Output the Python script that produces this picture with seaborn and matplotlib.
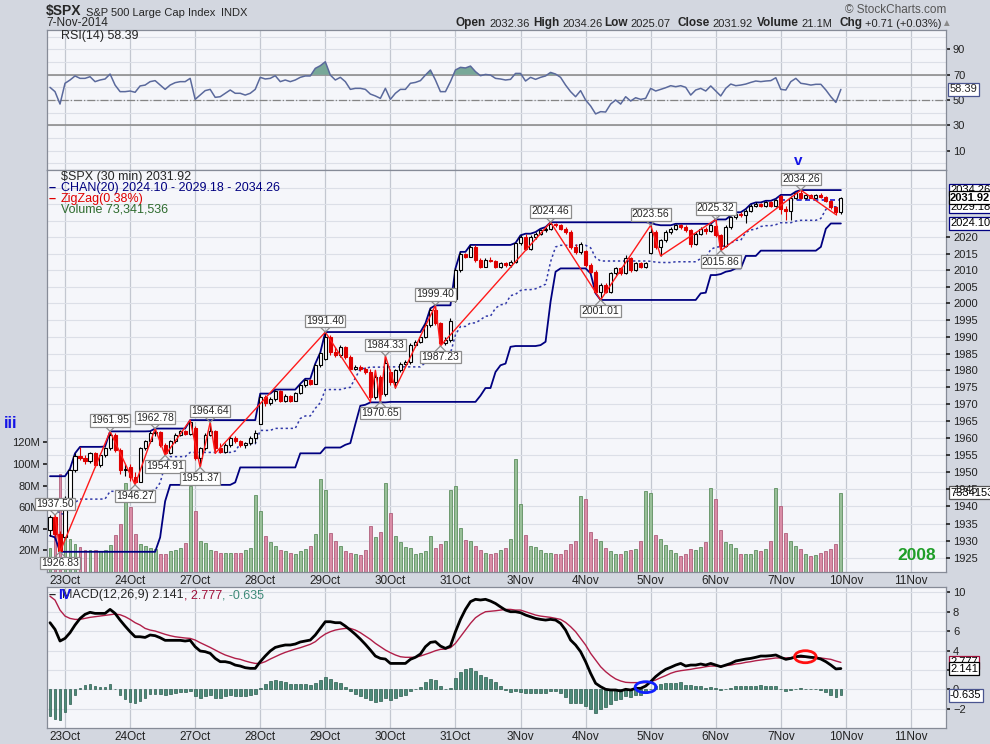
import numpy as np
import pandas as pd
import matplotlib
matplotlib.use("Agg")
import matplotlib.pyplot as plt
import seaborn as sns
from matplotlib.patches import Ellipse

# ---------------- data (30-minute bars, index 0 = first bar of 23 Oct) ----------------
bar_index = list(range(-3, 156))
day_starts = [0, 13, 26, 39, 52, 65, 78, 91, 104, 117, 130, 143, 156, 169]
day_labels = ["23Oct", "24Oct", "27Oct", "28Oct", "29Oct", "30Oct", "31Oct",
              "3Nov", "4Nov", "5Nov", "6Nov", "7Nov", "10Nov", "11Nov"]

opens = [1933.0, 1936.8, 1932.0,
         1931.0, 1942.5, 1950.5, 1954.8, 1954.0, 1953.2, 1955.5, 1952.0, 1955.0, 1957.0, 1961.0, 1956.5, 1950.5,
         1951.6, 1948.5, 1947.2, 1957.0, 1959.0, 1961.5, 1961.8, 1958.0, 1955.5, 1959.0, 1961.0, 1962.0, 1961.3,
         1963.0, 1954.0, 1957.0, 1961.0, 1962.0, 1957.0, 1956.0, 1958.0, 1960.0, 1959.0, 1958.0, 1958.4, 1960.0,
         1964.1, 1972.0, 1970.2, 1971.5, 1974.0, 1971.0, 1972.5, 1971.0, 1973.2, 1975.5, 1977.0, 1976.0, 1981.5,
         1983.3, 1990.0, 1985.5, 1984.5, 1987.0, 1984.0, 1980.5, 1981.0, 1980.3, 1979.5, 1972.0, 1978.0, 1973.0,
         1979.5, 1976.5, 1980.0, 1982.0, 1982.5, 1987.5, 1988.5, 1990.0, 1993.5, 1998.0, 1994.0, 1988.0, 1989.0,
         2001.2, 2010.0, 2015.0, 2014.0, 2017.0, 2013.0, 2011.0, 2013.0, 2012.8, 2011.0, 2012.0, 2011.5, 2012.5,
         2018.2, 2020.0, 2016.5, 2020.0, 2021.0, 2022.0, 2022.5, 2024.0, 2023.5, 2022.5, 2021.5, 2017.0, 2015.5,
         2015.8, 2011.5, 2009.5, 2003.5, 2005.5, 2003.5, 2009.0, 2010.5, 2009.0, 2013.5, 2010.0, 2012.0, 2011.0,
         2015.3, 2021.5, 2017.0, 2019.0, 2021.5, 2022.5, 2023.5, 2023.0, 2022.0, 2017.8, 2021.0, 2022.5, 2021.8,
         2023.3, 2020.5, 2017.3, 2023.0, 2026.0, 2027.0, 2026.8, 2028.0, 2029.5, 2030.0, 2029.5, 2030.5, 2029.5,
         2032.36, 2028.6, 2028.0, 2032.0, 2033.5, 2032.0, 2032.7, 2032.0, 2032.8, 2032.3, 2031.0, 2029.2, 2027.5]
highs = [1937.6, 1937.5, 1932.8,
         1943.0, 1951.0, 1955.5, 1957.4, 1955.0, 1956.0, 1956.0, 1955.5, 1957.5, 1961.95, 1961.5, 1957.0, 1952.5,
         1952.5, 1950.0, 1957.5, 1959.5, 1962.0, 1962.78, 1962.0, 1958.5, 1959.5, 1961.5, 1962.5, 1962.5, 1965.27,
         1963.5, 1957.5, 1961.5, 1964.64, 1962.5, 1958.5, 1958.5, 1960.5, 1960.5, 1959.5, 1958.8, 1960.5, 1962.5,
         1973.1, 1972.8, 1972.2, 1974.3, 1974.2, 1973.0, 1972.8, 1973.5, 1976.0, 1977.5, 1977.5, 1982.0, 1985.3,
         1991.40, 1990.5, 1987.0, 1987.5, 1987.3, 1984.5, 1981.5, 1981.5, 1981.0, 1980.5, 1980.0, 1978.5, 1984.33,
         1980.5, 1980.5, 1982.5, 1983.0, 1988.0, 1989.0, 1990.5, 1994.0, 1998.5, 1999.40, 1994.5, 1990.0, 1995.5,
         2010.5, 2015.5, 2015.3, 2017.6, 2017.5, 2013.5, 2013.5, 2014.0, 2013.0, 2012.5, 2012.5, 2013.0, 2018.19,
         2020.5, 2021.0, 2020.5, 2021.5, 2022.5, 2023.0, 2024.46, 2024.3, 2023.8, 2023.0, 2022.0, 2018.0, 2018.5,
         2016.0, 2012.0, 2010.0, 2006.0, 2006.0, 2009.5, 2011.0, 2011.0, 2014.5, 2014.0, 2012.5, 2012.5, 2012.5,
         2023.56, 2022.0, 2019.5, 2022.0, 2023.0, 2024.0, 2023.8, 2023.5, 2022.5, 2021.5, 2023.0, 2023.0, 2024.0,
         2025.32, 2021.0, 2023.5, 2026.5, 2027.5, 2027.5, 2028.5, 2030.0, 2030.5, 2030.3, 2031.0, 2031.0, 2031.61,
         2032.8, 2029.5, 2032.5, 2033.8, 2034.26, 2033.0, 2033.0, 2033.2, 2033.5, 2032.5, 2031.3, 2029.5, 2032.3]
lows = [1931.5, 1931.0, 1926.83,
        1931.0, 1941.5, 1950.0, 1953.5, 1952.5, 1952.8, 1951.5, 1951.5, 1954.5, 1956.5, 1956.0, 1949.5, 1949.0,
        1947.5, 1946.27, 1947.0, 1956.5, 1958.5, 1960.5, 1957.5, 1954.91, 1955.2, 1958.5, 1960.5, 1960.8, 1961.0,
        1953.5, 1951.37, 1956.5, 1960.5, 1955.5, 1955.5, 1955.5, 1957.5, 1958.5, 1957.5, 1957.2, 1958.0, 1958.5,
        1964.1, 1969.5, 1969.8, 1971.0, 1970.5, 1970.5, 1970.5, 1970.8, 1973.0, 1975.0, 1975.5, 1975.8, 1981.0,
        1983.0, 1984.5, 1984.0, 1984.0, 1983.5, 1980.0, 1980.0, 1979.8, 1979.0, 1970.7, 1971.5, 1970.65, 1972.5,
        1975.5, 1974.75, 1979.5, 1981.5, 1982.0, 1987.0, 1988.0, 1989.5, 1993.0, 1993.5, 1987.23, 1987.5, 1988.5,
        2000.5, 2009.5, 2013.5, 2013.8, 2012.5, 2010.5, 2010.8, 2012.5, 2010.5, 2010.5, 2011.0, 2011.0, 2012.0,
        2017.5, 2016.0, 2016.0, 2019.5, 2020.5, 2021.5, 2022.0, 2023.0, 2022.0, 2021.0, 2016.5, 2015.0, 2015.0,
        2011.0, 2009.0, 2003.0, 2001.01, 2003.0, 2003.2, 2008.5, 2008.5, 2008.8, 2009.5, 2009.8, 2010.5, 2010.5,
        2015.0, 2016.5, 2014.27, 2018.5, 2021.0, 2022.0, 2022.5, 2021.5, 2017.0, 2017.5, 2020.5, 2021.0, 2021.5,
        2020.0, 2015.86, 2017.0, 2022.5, 2025.5, 2026.0, 2024.10, 2027.5, 2029.0, 2029.0, 2029.0, 2029.0, 2029.2,
        2027.0, 2025.07, 2025.3, 2031.5, 2031.5, 2031.5, 2031.8, 2031.8, 2032.0, 2030.5, 2028.5, 2026.8, 2027.0]
closes = [1936.8, 1932.0, 1927.1,
          1942.5, 1950.5, 1954.8, 1954.0, 1953.2, 1955.5, 1952.0, 1955.0, 1957.0, 1961.0, 1956.5, 1950.5, 1950.8,
          1948.5, 1947.2, 1957.0, 1959.0, 1961.5, 1961.8, 1958.0, 1955.5, 1959.0, 1961.0, 1962.0, 1961.3, 1964.6,
          1954.0, 1957.0, 1961.0, 1962.0, 1957.0, 1956.0, 1958.0, 1960.0, 1959.0, 1958.0, 1958.4, 1960.0, 1961.6,
          1972.0, 1970.2, 1971.5, 1974.0, 1971.0, 1972.5, 1971.0, 1973.2, 1975.5, 1977.0, 1976.0, 1981.5, 1985.05,
          1990.0, 1985.5, 1984.5, 1987.0, 1984.0, 1980.5, 1981.0, 1980.3, 1979.5, 1972.0, 1978.0, 1973.0, 1982.3,
          1976.5, 1980.0, 1982.0, 1982.5, 1987.5, 1988.5, 1990.0, 1993.5, 1998.0, 1994.0, 1988.0, 1989.0, 1994.65,
          2010.0, 2015.0, 2014.0, 2017.0, 2013.0, 2011.0, 2013.0, 2012.8, 2011.0, 2012.0, 2011.5, 2012.5, 2018.05,
          2020.0, 2016.5, 2020.0, 2021.0, 2022.0, 2022.5, 2024.0, 2023.5, 2022.5, 2021.5, 2017.0, 2015.5, 2017.8,
          2011.5, 2009.5, 2003.5, 2005.5, 2003.5, 2009.0, 2010.5, 2009.0, 2013.5, 2010.0, 2012.0, 2011.0, 2012.1,
          2021.5, 2017.0, 2019.0, 2021.5, 2022.5, 2023.5, 2023.0, 2022.0, 2017.8, 2021.0, 2022.5, 2021.8, 2023.6,
          2020.5, 2017.3, 2023.0, 2026.0, 2027.0, 2026.8, 2028.0, 2029.5, 2030.0, 2029.5, 2030.5, 2029.5, 2031.2,
          2028.6, 2028.0, 2032.0, 2033.5, 2032.0, 2032.7, 2032.0, 2032.8, 2032.3, 2031.0, 2029.2, 2027.5, 2031.92]
volume_m = [22, 34, 91,
            42, 31, 26, 23, 20, 20, 20, 19, 20, 25, 34, 44, 82,
            60, 35, 26, 24, 22, 21, 17, 17, 19, 20, 22, 27, 80,
            56, 29, 27, 20, 19, 18, 18, 18, 18, 18, 20, 22, 71,
            56, 33, 28, 24, 20, 19, 18, 17, 19, 21, 24, 35, 86,
            76, 36, 29, 24, 19, 18, 17, 16, 20, 43, 32, 37, 82,
            55, 33, 28, 23, 22, 17, 18, 19, 33, 22, 26, 29, 76,
            80, 41, 30, 29, 24, 20, 18, 17, 18, 20, 22, 31, 105,
            63, 34, 24, 23, 20, 18, 18, 17, 17, 20, 26, 29, 70,
            68, 37, 31, 29, 22, 19, 17, 17, 19, 20, 21, 29, 75,
            73, 34, 31, 25, 20, 18, 15, 17, 21, 20, 23, 28, 78,
            68, 39, 28, 26, 22, 17, 17, 17, 20, 19, 21, 29, 78,
            61, 36, 29, 24, 21, 17, 15, 16, 18, 19, 21, 26, 73.34]
rsi14 = [60.0, 56.6, 46.8,
         63.2, 65.8, 69.0, 67.1, 67.1, 68.4, 64.5, 65.8, 66.6, 70.5, 61.8, 56.6, 56.6,
         57.1, 56.1, 61.1, 61.8, 64.5, 65.3, 61.8, 58.4, 61.8, 63.7, 64.5, 64.5, 67.1,
         50.5, 53.9, 57.4, 58.4, 52.1, 52.6, 55.3, 57.9, 55.3, 55.3, 53.9, 55.3, 58.4,
         67.9, 66.6, 67.1, 69.2, 64.5, 65.8, 64.5, 65.8, 67.9, 69.0, 69.0, 75.0, 77.1,
         80.2, 69.7, 65.8, 67.9, 64.5, 58.4, 59.2, 59.2, 58.4, 54.7, 53.2, 51.3, 59.2,
         50.5, 55.3, 58.4, 58.4, 63.2, 63.9, 65.3, 69.7, 73.7, 65.8, 56.6, 56.6, 64.5,
         73.7, 75.8, 75.3, 76.8, 72.4, 69.2, 70.2, 69.7, 67.1, 66.6, 65.8, 66.3, 71.0,
         71.0, 65.0, 67.9, 66.3, 67.9, 69.0, 71.8, 70.5, 67.9, 61.8, 56.6, 52.6, 57.4,
         50.0, 45.3, 39.0, 40.8, 40.5, 46.8, 50.0, 46.8, 52.6, 49.2, 51.8, 50.5, 51.3,
         59.2, 57.1, 58.4, 59.7, 61.3, 60.5, 61.3, 60.0, 53.9, 57.9, 59.2, 57.1, 61.1,
         57.1, 53.2, 59.2, 62.6, 61.3, 61.8, 62.6, 63.9, 65.0, 64.5, 65.0, 65.3, 67.6,
         58.4, 57.9, 64.5, 67.1, 63.2, 62.6, 61.8, 62.4, 62.4, 57.9, 52.6, 48.1, 58.39]
macd_line = [6.87, 6.18, 4.98,
             5.25, 5.84, 6.63, 7.30, 7.73, 7.94, 7.83, 7.83, 7.83, 8.24, 7.83, 7.14, 6.52,
             5.94, 5.42, 5.42, 5.35, 5.60, 5.53, 5.32, 5.05, 5.05, 5.05, 5.05, 4.98, 5.05,
             4.39, 3.95, 3.88, 3.71, 3.19, 2.85, 2.85, 2.74, 2.50, 2.40, 2.23, 2.16, 2.16,
             2.85, 3.43, 3.95, 4.32, 4.46, 4.57, 4.57, 4.67, 4.88, 4.98, 5.08, 5.60, 6.28,
             6.97, 6.97, 6.87, 6.87, 6.52, 6.11, 5.67, 5.18, 4.64, 4.05, 3.43, 3.19, 3.12,
             2.67, 2.67, 2.67, 2.67, 3.09, 3.30, 3.64, 4.39, 4.84, 4.91, 4.46, 4.22, 4.46,
             5.94, 7.21, 8.24, 9.04, 9.28, 9.21, 9.28, 9.10, 8.85, 8.50, 8.17, 8.00, 8.00,
             7.90, 7.66, 7.49, 7.31, 7.21, 7.14, 7.21, 7.14, 6.80, 6.11, 5.08, 4.57, 3.88,
             2.85, 1.65, 0.62, 0.27, 0.00, -0.07, -0.07, -0.17, 0.00, -0.07, 0.10, 0.10, 0.34,
             0.79, 1.31, 1.72, 2.06, 2.27, 2.50, 2.67, 2.40, 2.50, 2.50, 2.61, 2.50, 2.67,
             2.50, 2.33, 2.50, 2.67, 2.92, 3.02, 3.12, 3.19, 3.30, 3.43, 3.43, 3.47, 3.54,
             3.30, 3.09, 3.19, 3.36, 3.43, 3.36, 3.30, 3.26, 3.12, 2.85, 2.50, 2.10, 2.141]
macd_signal = [9.60, 9.20, 8.17,
               7.55, 7.31, 7.21, 7.21, 7.31, 7.42, 7.49, 7.55, 7.62, 7.69, 7.76, 7.69, 7.49,
               7.21, 6.87, 6.63, 6.28, 6.11, 6.01, 5.84, 5.67, 5.53, 5.42, 5.35, 5.29, 5.25,
               5.08, 4.81, 4.57, 4.32, 4.05, 3.78, 3.54, 3.36, 3.19, 3.09, 2.92, 2.78, 2.67,
               2.67, 2.85, 3.12, 3.36, 3.60, 3.81, 3.98, 4.15, 4.29, 4.46, 4.64, 4.91, 5.35,
               5.70, 5.94, 6.11, 6.21, 6.28, 6.28, 6.11, 5.84, 5.49, 5.15, 4.74, 4.39, 4.05,
               3.78, 3.54, 3.36, 3.30, 3.30, 3.30, 3.43, 3.60, 3.78, 3.98, 4.12, 4.15, 4.29,
               4.74, 5.42, 6.11, 6.80, 7.38, 7.73, 8.00, 8.05, 8.10, 8.17, 8.24, 8.24, 8.17,
               8.17, 8.00, 7.83, 7.66, 7.55, 7.49, 7.42, 7.31, 7.21, 6.90, 6.46, 5.94, 5.25,
               4.57, 3.71, 3.02, 2.33, 1.82, 1.41, 1.07, 0.86, 0.72, 0.69, 0.69, 0.69, 0.69,
               0.79, 0.96, 1.20, 1.41, 1.65, 1.82, 1.92, 1.99, 2.06, 2.16, 2.23, 2.33, 2.40,
               2.40, 2.40, 2.44, 2.50, 2.61, 2.67, 2.78, 2.85, 2.95, 3.02, 3.09, 3.16, 3.23,
               3.23, 3.23, 3.26, 3.30, 3.30, 3.30, 3.26, 3.26, 3.23, 3.16, 3.09, 2.92, 2.777]
zigzag_idx = [-2, -1, 9, 14, 18, 20, 25, 27, 29, 30, 52, 61, 62, 63, 64, 66, 74, 75,
              97, 107, 117, 119, 130, 131, 147, 154]
zigzag_val = [1937.50, 1926.83, 1961.95, 1946.27, 1962.78, 1954.91, 1965.27, 1951.37, 1964.64,
              1955.50, 1991.40, 1970.70, 1980.00, 1970.65, 1984.33, 1974.75, 1999.40, 1987.23,
              2024.46, 2001.01, 2023.56, 2014.27, 2025.32, 2015.86, 2034.26, 2026.80]
label_idx = [-2, -1, 9, 14, 18, 20, 27, 29, 52, 63, 64, 74, 75, 97, 107, 117, 130, 131, 147]
label_val = [1937.50, 1926.83, 1961.95, 1946.27, 1962.78, 1954.91, 1951.37, 1964.64, 1991.40,
             1970.65, 1984.33, 1999.40, 1987.23, 2024.46, 2001.01, 2023.56, 2025.32, 2015.86, 2034.26]
label_side = ["hi", "lo", "hi", "lo", "hi", "lo", "lo", "hi", "hi", "lo", "hi", "hi", "lo",
              "hi", "lo", "hi", "hi", "lo", "hi"]
chan_prior_high = 1948.8      # channel top carried in from bars left of the window
prev_close = 2031.21          # 6-Nov close (dashed reference on 7-Nov)

# ---------------- styling ----------------
sns.set_theme(style="white")
plt.rcParams["font.family"] = ["Liberation Sans", "DejaVu Sans"]

W, H = 990, 744
BG = "#d3d7e0"
PANEL = "#f5f6fa"
GRID = "#dcdfe7"
VGRID = "#c3c7d0"
FRAME = "#868b97"
RED = "#e00000"
NAVY = "#000080"
XL = (-3.6, 176.0)

fig = plt.figure(figsize=(9.9, 7.44), dpi=100)
fig.patch.set_facecolor(BG)


def rect(x0, y0, x1, y1):
    return [x0 / W, 1 - y1 / H, (x1 - x0) / W, (y1 - y0) / H]


def ftext(px, py, s, **kw):
    kw.setdefault("va", "center")
    return fig.text(px / W, 1 - py / H, s, **kw)


ax_r = fig.add_axes(rect(47, 30, 946, 170))
ax_v = fig.add_axes(rect(47, 170, 946, 572))
ax_p = ax_v.twinx()
ax_m = fig.add_axes(rect(47, 587, 946, 728))


def after(prev, s, gap=3, ax=None, **kw):
    # place a text right after another one (same baseline)
    ax = ax if ax is not None else ax_r
    return ax.annotate(s, xy=(1, 0), xycoords=prev, xytext=(gap, 0),
                       textcoords="offset pixels", va="bottom", ha="left",
                       annotation_clip=False, zorder=12, **kw)


for ax in (ax_r, ax_v, ax_m):
    ax.set_facecolor(PANEL)
    ax.set_xlim(*XL)
    for s in ax.spines.values():
        s.set_color(FRAME)
        s.set_linewidth(0.9)
    for d in day_starts:
        ax.axvline(d, color=VGRID, lw=0.9, zorder=0)
for s in ax_p.spines.values():
    s.set_visible(False)

x = np.array(bar_index, dtype=float)
o = np.array(opens); h = np.array(highs); l = np.array(lows); c = np.array(closes)
vol = np.array(volume_m, dtype=float)
rsi = np.array(rsi14)
macd = np.array(macd_line); sig = np.array(macd_signal)
hist = macd - sig
up = c >= o

# ---------------- RSI panel ----------------
ax_r.set_ylim(-5.3, 105.3)
for g in range(0, 101, 10):
    ax_r.axhline(g, color=GRID, lw=0.8, zorder=0)
ax_r.axhline(70, color="#858585", lw=1.1, zorder=1)
ax_r.axhline(30, color="#858585", lw=1.1, zorder=1)
ax_r.axhline(50, color="#858585", lw=0.9, ls="-.", zorder=1)
ax_r.fill_between(x, rsi, 70, where=rsi > 70, interpolate=True, color="#78a898", lw=0, zorder=2)
sns.lineplot(x=x, y=rsi, ax=ax_r, color="#5a699c", lw=1.1, zorder=3)
ax_r.set_yticks([10, 30, 50, 70, 90])
ax_r.yaxis.tick_right()
ax_r.set_xticks(day_starts)
ax_r.tick_params(axis="x", labelbottom=False, length=0)
ax_r.tick_params(axis="y", labelsize=8, length=3, pad=2, colors="#222222")
ax_r.set_xlabel(""); ax_r.set_ylabel("")
ftext(61, 36, "RSI(14) 58.39", fontsize=9)
ax_r.annotate("58.39", xy=(1, 58.39), xycoords=ax_r.get_yaxis_transform(), xytext=(4, 0),
              textcoords="offset pixels", ha="left", va="center", fontsize=8,
              bbox=dict(boxstyle="square,pad=0.15", fc="white", ec="#4a5590", lw=0.9),
              annotation_clip=False)

# ---------------- Price + volume panel ----------------
VMAX = 372.0
PLO, PHI = 1921.0, 2040.4
ax_v.set_ylim(0, VMAX)
ax_p.set_yscale("log")
ax_p.set_ylim(PLO, PHI)
ax_p.set_xlim(*XL)

# price grid (every 5 points), mapped onto the volume axis so it sits behind the bars
for p in range(1925, 2040, 5):
    yv = ax_v.transData.inverted().transform(ax_p.transData.transform((0, p)))[1]
    ax_v.axhline(yv, color=GRID, lw=0.8, zorder=0)

ax_v.bar(x[up], vol[up], width=0.58, color="#98bf98", edgecolor="#5f8f60", lw=0.6, zorder=1)
ax_v.bar(x[~up], vol[~up], width=0.58, color="#d98ca6", edgecolor="#b0607c", lw=0.6, zorder=1)
ax_v.set_yticks([20, 40, 60, 80, 100, 120], ["20M", "40M", "60M", "80M", "100M", "120M"])
ax_v.tick_params(axis="y", labelsize=8, length=3, pad=2, colors="#222222", left=True, right=False)
ax_v.set_xticks(day_starts, day_labels)
ax_v.tick_params(axis="x", labelsize=8.5, length=2, pad=0.5, colors="#222222")

# Donchian channel CHAN(20)
hs = pd.Series(np.concatenate([[chan_prior_high], h]))
ls_ = pd.Series(np.concatenate([[np.nan], l]))
upper = hs.rolling(20, min_periods=1).max().values[1:]
lower = ls_.rolling(20, min_periods=1).min().values[1:]
mid = (upper + lower) / 2
sns.lineplot(x=x, y=upper, ax=ax_p, color=NAVY, lw=1.3, zorder=2)
sns.lineplot(x=x, y=lower, ax=ax_p, color=NAVY, lw=1.3, zorder=2)
ax_p.plot(x, mid, color="#3038a8", lw=1.1, ls=(0, (1.5, 1.8)), zorder=2)
ax_p.plot([142.8, 155.4], [prev_close, prev_close], color="#1a1ad0", lw=1.2, ls=(0, (3, 2)), zorder=2)

# candles
ax_p.vlines(x[up], l[up], h[up], color="black", lw=0.8, zorder=3)
ax_p.vlines(x[~up], l[~up], h[~up], color=RED, lw=0.8, zorder=3)
ax_p.bar(x[up], np.maximum(c - o, 0.08)[up], bottom=o[up], width=0.62,
         facecolor="white", edgecolor="black", lw=0.8, zorder=4)
ax_p.bar(x[~up], (o - c)[~up], bottom=c[~up], width=0.62,
         facecolor=RED, edgecolor=RED, lw=0.8, zorder=4)

# ZigZag
ax_p.plot(zigzag_idx, zigzag_val, color="#ff1a1a", lw=1.0, zorder=5)

ax_p.set_yticks(list(range(1925, 2021, 5)), [str(v) for v in range(1925, 2021, 5)])
ax_p.yaxis.set_minor_locator(matplotlib.ticker.NullLocator())
ax_p.tick_params(axis="y", labelsize=8, length=3, pad=2, colors="#222222")
ax_p.set_xlabel(""); ax_p.set_ylabel(""); ax_v.set_xlabel(""); ax_v.set_ylabel("")

LB = dict(boxstyle="square,pad=0.12", fc="white", ec="#8c8c8c", lw=0.9)
for i, v, side in zip(label_idx, label_val, label_side):
    sgn = 1 if side == "hi" else -1
    ax_p.annotate(f"{v:.2f}", xy=(i, v), xytext=(0, 6 * sgn), textcoords="offset pixels",
                  ha="center", va="bottom" if sgn > 0 else "top", fontsize=7.5,
                  bbox=LB, zorder=8, annotation_clip=False)
    for dx in (-5, 5):
        ax_p.annotate("", xy=(i, v), xytext=(dx, 5 * sgn), textcoords="offset pixels",
                      arrowprops=dict(arrowstyle="-", color="#8c8c8c", lw=0.9, shrinkA=0, shrinkB=0),
                      zorder=7, annotation_clip=False)

# right-side value tags
def ptag(val, s, ec, bold=False, ax=ax_p):
    ax.annotate(s, xy=(1, val), xycoords=ax.get_yaxis_transform(), xytext=(4, 0),
                textcoords="offset pixels", ha="left", va="center", fontsize=8,
                fontweight="bold" if bold else "normal", color="black",
                bbox=dict(boxstyle="square,pad=0.12", fc="white", ec=ec, lw=0.9),
                annotation_clip=False, zorder=10)

ptag(2034.26, "2034.26", NAVY)
ptag(2024.10, "2024.10", NAVY)
ptag(2029.18, "2029.18", NAVY)
ptag(2031.92, "2031.92", "black", bold=True)
ptag(73.34, "73341536", "#555555", ax=ax_v)

# legends in price panel
ftext(61, 177, "$SPX (30 min) 2031.92", fontsize=9)
ftext(49, 188, "\u2013", fontsize=9, color=NAVY, fontweight="bold")
ftext(61, 188, "CHAN(20) 2024.10 - 2029.18 - 2034.26", fontsize=9, color=NAVY)
ftext(49, 199, "\u2013", fontsize=9, color=RED, fontweight="bold")
ftext(61, 199, "ZigZag(0.38%)", fontsize=9, color=RED)
ftext(61, 210, "Volume 73,341,536", fontsize=9, color="#2e6b2e")

# ---------------- MACD panel ----------------
ax_m.set_ylim(-3.99, 10.55)
for g in range(-2, 11, 2):
    ax_m.axhline(g, color=GRID, lw=0.8, zorder=0)
ax_m.bar(x, hist, width=0.55, color="#4d8a78", edgecolor="#2b5c4e", lw=0.5, zorder=1)
sns.lineplot(x=x, y=sig, ax=ax_m, color="#b01e48", lw=1.0, zorder=2)
sns.lineplot(x=x, y=macd, ax=ax_m, color="black", lw=2.0, zorder=3)
ax_m.add_patch(Ellipse((116.0, 0.22), 4.2, 1.13, fill=False, ec="#1020ff", lw=2.0, zorder=5))
ax_m.add_patch(Ellipse((147.9, 3.36), 4.3, 1.24, fill=False, ec="#ff1010", lw=2.0, zorder=5))
ax_m.set_yticks(list(range(-2, 11, 2)))
ax_m.yaxis.tick_right()
ax_m.tick_params(axis="y", labelsize=8, length=3, pad=2, colors="#222222")
ax_m.set_xticks(day_starts, day_labels)
ax_m.tick_params(axis="x", labelsize=8.5, length=2, pad=0.5, colors="#222222")
ax_m.set_xlabel(""); ax_m.set_ylabel("")
ptag(2.777, "2.777", "#a0103a", ax=ax_m)
ptag(2.141, "2.141", "black", ax=ax_m)
ptag(-0.635, "-0.635", "#4a5590", ax=ax_m)

t1 = ftext(62, 595, "MACD(12,26,9) 2.141", fontsize=9)
t2 = after(t1, ", 2.777", gap=0, ax=ax_m, fontsize=9, color="#a0103a")
after(t2, ", -0.635", gap=0, ax=ax_m, fontsize=9, color="#3d8a78")
ftext(49, 595, "\u2013", fontsize=9, fontweight="bold")

# ---------------- header & annotations ----------------
h1 = ftext(46, 11, "$SPX", fontsize=10, fontweight="bold")
h2 = after(h1, "S&P 500 Large Cap Index", gap=4, fontsize=8)
after(h2, "INDX", gap=6, fontsize=8)
ftext(46, 23, "7-Nov-2014", fontsize=8.5)
ftext(946, 10, "\u00a9 StockCharts.com", fontsize=8.5, ha="right", color="#555555")
hdr = [(456, "Open", "2032.36"), (533, "High", "2034.26"), (604, "Low", "2025.07"),
       (677, "Close", "2031.92"), (757, "Volume", "21.1M"), (839, "Chg", "+0.71 (+0.03%)")]
for px, lab, val in hdr:
    tl = ftext(px, 23, lab, fontsize=8.5, fontweight="bold")
    after(tl, val, gap=3, fontsize=8)
ftext(941, 23, "\u25b2", fontsize=7, color="#8a8a8a")

ftext(11, 423, "iii", fontsize=12, fontweight="bold", color="#1414e6", ha="center")
ftext(798, 161, "v", fontsize=11, fontweight="bold", color="#1414e6", ha="center")
ftext(65, 595, "IV", fontsize=10, fontweight="bold", color="#1414e6", ha="center")
ftext(917, 555, "2008", fontsize=12.5, fontweight="bold", color="#1f9e28", ha="center")

fig.savefig("out.png", dpi=100, facecolor=BG)
